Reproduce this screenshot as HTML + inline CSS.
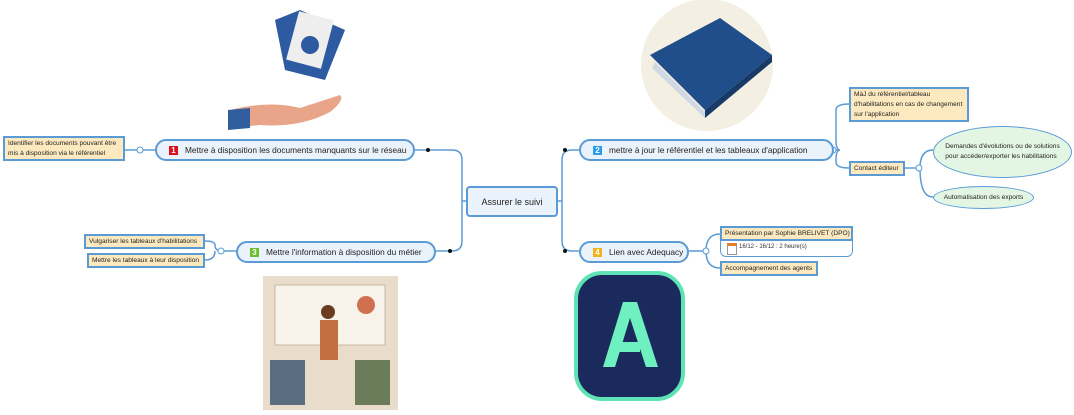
<!DOCTYPE html>
<html><head><meta charset="utf-8"><style>
body{margin:0;width:1074px;height:415px;background:#fff;position:relative;overflow:hidden;font-family:"Liberation Sans",sans-serif}
.n{position:absolute;box-sizing:border-box;background:#eaf2fb;border:2px solid #5b9bd5;border-radius:12px;font-size:8.3px;color:#222;display:flex;align-items:center;padding-left:12px;white-space:nowrap}
.l{position:absolute;box-sizing:border-box;background:#fde9bf;border:2px solid #5b9bd5;font-size:6.6px;color:#222;padding:1px 3px;line-height:10px;white-space:nowrap;overflow:hidden}
.e{position:absolute;box-sizing:border-box;background:#e3f6e3;border:1.5px solid #5b9bd5;border-radius:50%;font-size:6.6px;color:#222;display:flex;align-items:center;justify-content:center;text-align:left;line-height:10px}
.b{flex:0 0 9px;display:inline-block;width:9px;height:9px;color:#fff;font-size:8px;font-weight:bold;text-align:center;line-height:9px;margin-right:7px}
svg{position:absolute;left:0;top:0}
</style></head><body>
<svg width="1074" height="415">
<g fill="none" stroke="#5b9bd5" stroke-width="1.5">
<path d="M415 150 H452 Q462 150 462 160 V241 Q462 251 452 251 H436"/>
<path d="M462 201 H466"/>
<path d="M579 150 H572 Q562 150 562 160 V241 Q562 251 572 251 H579"/>
<path d="M558 201 H562"/>
<path d="M155 150 H125"/>
<path d="M236 251 H222 Q215 251 215 245 Q215 241 205 241 M215 251 Q215 260 205 260"/>
<path d="M834 150 H840 M840 150 Q836 150 836 140 V110 Q836 104 849 104 M840 150 Q836 150 836 160 V162 Q836 168 849 168"/>
<path d="M905 168 H920 Q920 150 933 150 M920 168 Q920 197 933 197"/>
<path d="M689 251 H706 Q706 234 720 234 M706 251 Q706 268 720 268"/>
</g>
<g fill="#fff" stroke="#5b9bd5" stroke-width="1"><circle cx="140" cy="150" r="3"/><circle cx="221" cy="251" r="3"/><circle cx="833" cy="150" r="3"/><circle cx="919" cy="168" r="3"/><circle cx="706" cy="251" r="3"/></g>
<g fill="#111"><circle cx="428" cy="150" r="2"/><circle cx="450" cy="251" r="2"/><circle cx="565" cy="150" r="2"/><circle cx="565" cy="251" r="2"/></g>
<path d="M275 20 L300 10 L345 30 L325 80 L285 70Z" fill="#2d5aa0"/>
<rect x="292" y="15" width="36" height="50" fill="#eee" transform="rotate(15 310 40)"/>
<circle cx="310" cy="45" r="9" fill="#2d5aa0"/>
<path d="M230 110 Q270 100 300 108 L340 95 Q345 100 330 112 Q300 128 260 125 L230 128Z" fill="#e9a58a"/>
<path d="M228 110 L250 108 L250 128 L228 130Z" fill="#2f5d9e"/>
<circle cx="707" cy="65" r="66" fill="#f3efe2"/>
<path d="M650 55 L720 18 L772 55 L705 110Z" fill="#1f4e8a"/>
<path d="M655 62 L705 112 L705 118 L652 68Z" fill="#cfd8e3"/>
<path d="M705 110 L772 55 L772 62 L705 118Z" fill="#173a66"/>
<rect x="263" y="276" width="135" height="134" fill="#e9dccb"/>
<rect x="275" y="285" width="110" height="60" fill="#f7f3ea" stroke="#c9b8a0"/>
<circle cx="366" cy="305" r="9" fill="#d07050"/>
<rect x="320" y="320" width="18" height="40" fill="#c2703f"/>
<circle cx="328" cy="312" r="7" fill="#6b3b22"/>
<rect x="270" y="360" width="35" height="45" fill="#5b6d80"/><rect x="355" y="360" width="35" height="45" fill="#6b7c5a"/>
<rect x="576" y="273" width="107" height="126" rx="26" fill="#1b2a5c" stroke="#5fe3b5" stroke-width="4"/>
<path d="M603 367 L623 302 L637 302 L658 367 L646 367 L630 318 L615 367Z M618 342 H640 V352 H615Z" fill="#6ff0c0"/>
</svg>
<div class="n" style="left:466px;top:186px;width:92px;height:31px;border-radius:4px;justify-content:center;padding:0;font-size:9px">Assurer le suivi</div>
<div class="n" style="left:155px;top:139px;width:260px;height:22px"><span class="b" style="background:#d9101a">1</span>Mettre à disposition les documents manquants sur le réseau</div>
<div class="n" style="left:236px;top:241px;width:200px;height:22px"><span class="b" style="background:#6cbf2c">3</span>Mettre l'information à disposition du métier</div>
<div class="n" style="left:579px;top:139px;width:255px;height:22px"><span class="b" style="background:#2a9de8">2</span>mettre à jour le référentiel et les tableaux d'application</div>
<div class="n" style="left:579px;top:241px;width:110px;height:22px"><span class="b" style="background:#f3b21a">4</span>Lien avec Adequacy</div>
<div class="l" style="left:3px;top:136px;width:122px;height:25px">Identifier les documents pouvant être<br>mis à disposition via le référentiel</div>
<div class="l" style="left:84px;top:234px;width:121px;height:15px">Vulgariser les tableaux d'habilitations</div>
<div class="l" style="left:87px;top:253px;width:118px;height:15px">Mettre les tableaux à leur disposition</div>
<div class="l" style="left:849px;top:87px;width:120px;height:35px">MàJ du référentiel/tableau<br>d'habilitations en cas de changement<br>sur l'application</div>
<div class="l" style="left:849px;top:161px;width:56px;height:15px">Contact éditeur</div>
<div class="e" style="left:933px;top:126px;width:139px;height:52px">Demandes d'évolutions ou de solutions<br>pour accéder/exporter les habilitations</div>
<div class="e" style="left:933px;top:186px;width:101px;height:23px">Automatisation des exports</div>
<div class="l" style="left:720px;top:226px;width:133px;height:15px">Présentation par Sophie BRELIVET (DPO)</div>
<div style="position:absolute;left:720px;top:240px;width:133px;height:17px;box-sizing:border-box;border:1.5px solid #5b9bd5;border-top:none;border-radius:0 0 6px 6px;font-size:6px;color:#333;padding:4px 0 0 18px"><span style="position:absolute;left:6px;top:3px;width:8px;height:8px;border:1px solid #999;border-top:3px solid #e67e22"></span>16/12 - 16/12 : 2 heure(s)</div>
<div class="l" style="left:720px;top:261px;width:98px;height:15px">Accompagnement des agents</div>
</body></html>
